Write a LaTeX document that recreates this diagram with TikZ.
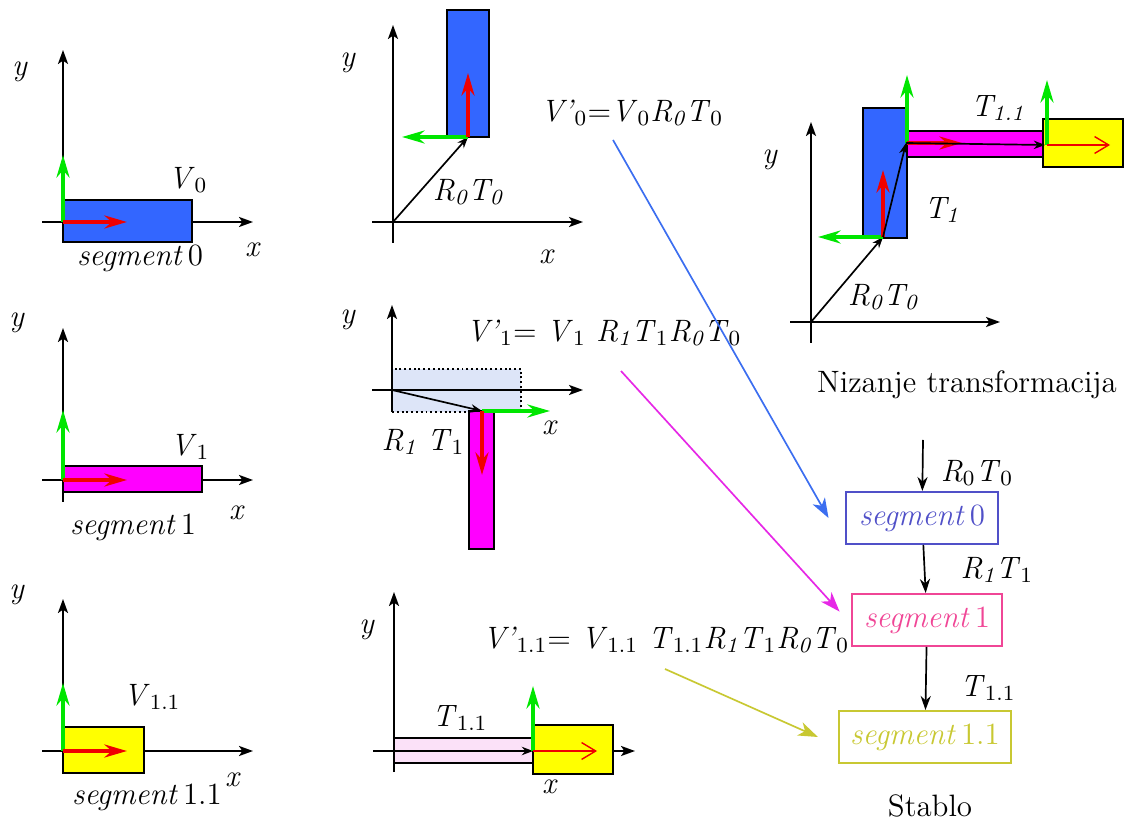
\documentclass[tikz,border=0pt]{standalone}
\usetikzlibrary{arrows.meta}

\definecolor{segblue}{RGB}{51,102,255}
\definecolor{segmag}{RGB}{255,0,255}
\definecolor{segyel}{RGB}{255,255,0}
\definecolor{vecgreen}{RGB}{0,230,0}
\definecolor{vecred}{RGB}{240,0,0}
\definecolor{ghostblue}{RGB}{221,229,248}
\definecolor{ghostpink}{RGB}{251,225,248}
\definecolor{treeblue}{RGB}{80,80,200}
\definecolor{treepink}{RGB}{240,70,150}
\definecolor{treeolive}{RGB}{200,200,50}
\definecolor{lineblue}{RGB}{60,110,240}
\definecolor{linemag}{RGB}{230,40,230}

\newcommand{\sbs}[1]{\textsubscript{#1}}
\newcommand{\seg}[1]{\textit{segment}\,#1}

\begin{document}
\begin{tikzpicture}[x=0.0125cm, y=-0.0125cm,
    font=\fontsize{11}{13}\selectfont,
    axisline/.style={line width=0.6pt, -{Stealth[length=5pt,width=3.6pt,inset=1.2pt]}},
    segbox/.style={draw=black, line width=0.7pt},
    ghost/.style={draw=black, densely dotted, line width=0.7pt},
    gvec/.style={vecgreen, line width=1.4pt, -{Stealth[length=8pt,width=4.6pt]}},
    rvec/.style={vecred, line width=1.4pt, -{Stealth[length=8pt,width=4.6pt]}},
    rthin/.style={vecred, line width=0.5pt, -{Straight Barb[length=5pt,width=6pt]}},
    pvec/.style={black, line width=0.6pt, -{Stealth[length=4pt,width=3pt]}},
    treebox/.style={draw, line width=0.7pt, inner sep=0pt, minimum height=0.65cm},
    treearrow/.style={line width=0.6pt, -{Stealth[length=5pt,width=3.6pt]}},
    link/.style={line width=0.6pt, -{Stealth[length=7pt,width=5pt,inset=2pt]}}]
    \useasboundingbox (0,0) rectangle (1130,821);

    % Segment 0
    \coordinate (O1) at (63,222);
    \draw[axisline] (42,222) -- (253,222);
    \draw[axisline] (63,242) -- (63,50);
    \filldraw[segbox, fill=segblue] (63,200) rectangle (192,242);
    \draw[gvec] (O1) -- (63,155);
    \draw[rvec] (O1) -- (127,222);
    \node (y1) at (20,72) {\textit{y}};
    \node (x1) at (253,250) {\textit{x}};
    \node (V0) at (188,180) {\textit{V}\sbs{0}};
    \node (seg0) at (140,258) {\seg{0}};

    % Segment 1
    \coordinate (O2) at (63,480);
    \draw[axisline] (42,480) -- (253,480);
    \draw[axisline] (63,502) -- (63,328);
    \filldraw[segbox, fill=segmag] (63,466) rectangle (202,492);
    \draw[gvec] (O2) -- (63,410);
    \draw[rvec] (O2) -- (127,480);
    \node (y2) at (17,323) {\textit{y}};
    \node (x2) at (237,513) {\textit{x}};
    \node (V1) at (190,447) {\textit{V}\sbs{1}};
    \node (seg1) at (133,527) {\seg{1}};

    % Segment 1.1
    \coordinate (O3) at (63,751);
    \draw[axisline] (42,751) -- (253,751);
    \draw[axisline] (63,773) -- (63,599);
    \filldraw[segbox, fill=segyel] (63,727) rectangle (144,773);
    \draw[gvec] (O3) -- (63,683);
    \draw[rvec] (O3) -- (127,751);
    \node (y3) at (17,595) {\textit{y}};
    \node (x3) at (233,780) {\textit{x}};
    \node (V11) at (152,697) {\textit{V}\sbs{1.1}};
    \node (seg11) at (147,797) {\seg{1.1}};

    % R0 T0
    \coordinate (O4) at (393,222);
    \coordinate (P4) at (468,137);
    \draw[axisline] (372,222) -- (583,222);
    \draw[axisline] (393,243) -- (393,25);
    \filldraw[segbox, fill=segblue] (447,10) rectangle (489,137);
    \draw[pvec] (O4) -- (P4);
    \draw[gvec] (P4) -- (402,137);
    \draw[rvec] (P4) -- (468,73);
    \node (y4) at (348,63) {\textit{y}};
    \node (x4) at (547,257) {\textit{x}};
    \node (RT4) at (468,192) {\textit{R\sbs{0}T\sbs{0}}};

    % R1 T1
    \coordinate (O5) at (392,390);
    \coordinate (P5) at (482,411);
    \filldraw[ghost, fill=ghostblue] (392,369) rectangle (521,412);
    \draw[axisline] (372,390) -- (583,390);
    \draw[axisline] (392,412) -- (392,305);
    \filldraw[segbox, fill=segmag] (469,411) rectangle (494,549);
    \draw[pvec] (O5) -- (P5);
    \draw[gvec] (P5) -- (550,411);
    \draw[rvec] (P5) -- (482,475);
    \node (y5) at (348,320) {\textit{y}};
    \node (x5) at (550,428) {\textit{x}};
    \node (RT5) at (423,442) {\textit{R\sbs{1}} \textit{T}\sbs{1}};

    % T1.1
    \coordinate (O6) at (394,751);
    \coordinate (P6) at (533,751);
    \draw[axisline] (373,751) -- (635,751);
    \draw[axisline] (394,772) -- (394,592);
    \filldraw[segbox, fill=ghostpink] (394,738) rectangle (533,763);
    \filldraw[segbox, fill=segyel] (533,725) rectangle (613,774);
    \draw[pvec] (O6) -- (P6);
    \draw[gvec] (P6) -- (533,686);
    \draw[rthin] (P6) -- (597,751);
    \node (y6) at (367,630) {\textit{y}};
    \node (x6) at (550,787) {\textit{x}};
    \node (T6) at (460,718) {\textit{T}\sbs{1.1}};

    % Nizanje transformacija
    \coordinate (O7) at (811,322);
    \coordinate (P7a) at (883,237);
    \coordinate (P7b) at (906,143);
    \coordinate (P7c) at (1045,145);
    \draw[axisline] (790,322) -- (1000,322);
    \draw[axisline] (811,343) -- (811,122);
    \filldraw[segbox, fill=segblue] (863,108) rectangle (907,238);
    \filldraw[segbox, fill=segmag] (907,131) rectangle (1043,157);
    \filldraw[segbox, fill=segyel] (1043,119) rectangle (1123,167);
    \draw[pvec] (O7) -- (P7a);
    \draw[gvec] (P7a) -- (818,237);
    \draw[rvec] (P7a) -- (883,170);
    \draw[pvec] (P7a) -- (P7b);
    \draw[gvec] (907,143) -- (907,75);
    \draw[rvec] (907,143) -- (962,143);
    \draw[pvec] (P7b) -- (P7c);
    \draw[gvec] (1047,145) -- (1047,80);
    \draw[rthin] (1047,145) -- (1110,145);
    \node (y7) at (770,160) {\textit{y}};
    \node (T7b) at (998,108) {\textit{T\sbs{1.1}}};
    \node (T7a) at (942,210) {\textit{T\sbs{1}}};
    \node (RT7) at (883,297) {\textit{R\sbs{0}T\sbs{0}}};
    \node (niz) at (967,385) {Nizanje transformacija};

    % Equations
    \node (eq0) at (632,113) {\textit{V'}\sbs{0}=\textit{V}\sbs{0}\textit{R\sbs{0}}\textit{T}\sbs{0}};
    \node (eq1) at (604,333) {\textit{V'}\sbs{1}= \textit{V}\sbs{1} \textit{R\sbs{1}}\textit{T}\sbs{1}\textit{R\sbs{0}}\textit{T}\sbs{0}};
    \node (eq11) at (666,640) {\textit{V'}\sbs{1.1}= \textit{V}\sbs{1.1} \textit{T}\sbs{1.1}\textit{R\sbs{1}}\textit{T}\sbs{1}\textit{R\sbs{0}}\textit{T}\sbs{0}};

    % Stablo
    \coordinate (root) at (923,440);
    \node[treebox, draw=treeblue, text=treeblue, minimum width=1.89cm] (s0) at (922,518) {\seg{0}};
    \node[treebox, draw=treepink, text=treepink, minimum width=1.88cm] (s1) at (927,620) {\seg{1}};
    \node[treebox, draw=treeolive, text=treeolive, minimum width=2.16cm] (s11) at (925,737) {\seg{1.1}};
    \draw[treearrow] (root) -- (s0);
    \draw[treearrow] (s0) -- (s1);
    \draw[treearrow] (s1) -- (s11);
    \node (rt0) at (977,473) {\textit{R}\sbs{0}\textit{T}\sbs{0}};
    \node (rt1) at (997,570) {\textit{R\sbs{1}T}\sbs{1}};
    \node (t11) at (988,688) {\textit{T}\sbs{1.1}};
    \node (stablo) at (930,806) {Stablo};

    % Links
    \coordinate (b0) at (613,140);
    \coordinate (b1) at (621,371);
    \coordinate (b11) at (665,669);
    \draw[link, lineblue] (b0) -- ([xshift=-6pt]s0.west);
    \draw[link, linemag] (b1) -- ([shift={(-4pt,3pt)}]s1.west);
    \draw[link, treeolive] (b11) -- ([xshift=-7pt]s11.west);
\end{tikzpicture}
\end{document}
